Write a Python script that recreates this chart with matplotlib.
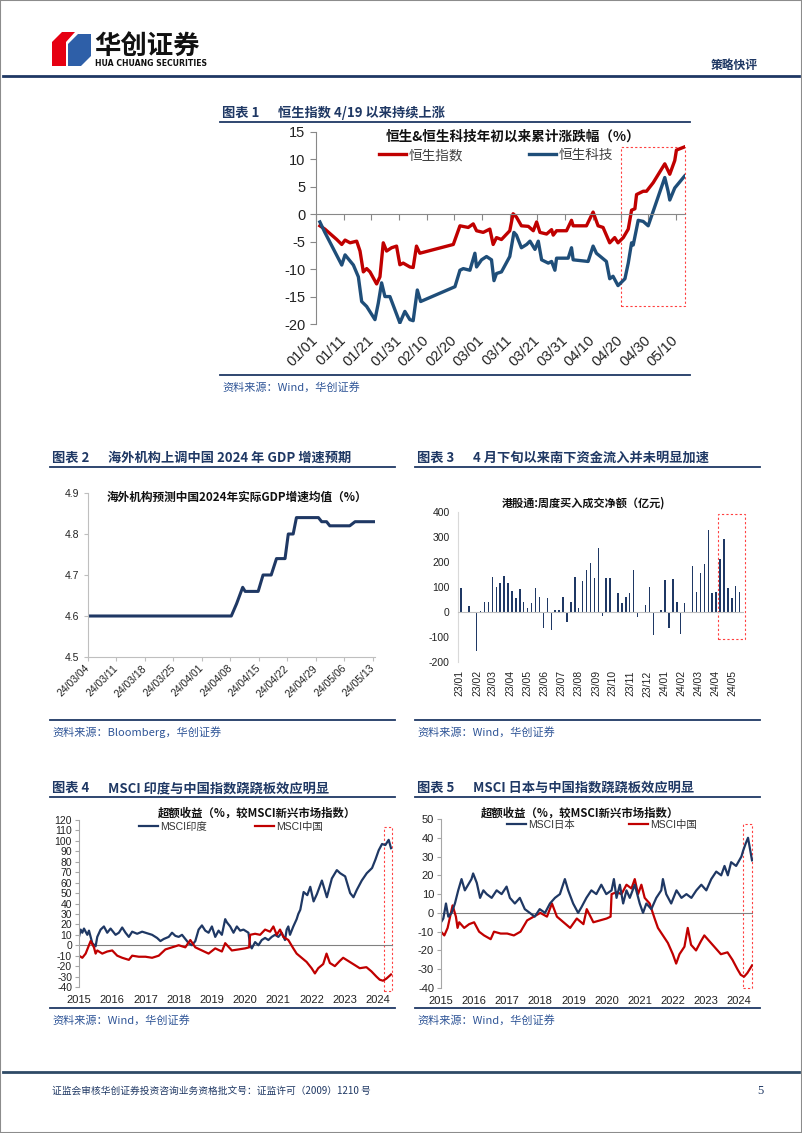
import numpy as np
import pandas as pd
import matplotlib
matplotlib.use('Agg')
import matplotlib.pyplot as plt
import matplotlib.dates as mdates
from matplotlib.patches import Rectangle, Polygon
from matplotlib.lines import Line2D

plt.rcParams['font.family'] = ['Liberation Sans', 'Noto Sans CJK SC']
plt.rcParams['axes.unicode_minus'] = False

W, H = 802, 1133
NAVY = '#1F3864'
BLUE = '#1F4E79'
RED = '#C00000'
CJK = ['Noto Sans CJK SC', 'DejaVu Sans']

# ---- chart 1: Hang Seng / HS Tech YTD (%), x = days since 2024-01-01
hsi_day = [1.4, 3.2, 7.5, 9.3, 10.5, 12.3, 14.7, 15.9, 17.1, 18.3, 19.5, 21.9, 23.1, 24.3, 25.5,
           27.3, 29.1, 30.3, 31.5, 33.9, 35.1, 36.3, 37.5, 49.6, 52.0, 55.0, 56.8, 58.0, 60.4, 62.8,
           64.0, 65.2, 67.0, 70.0, 71.2, 72.4, 74.2, 76.7, 78.5, 79.7, 80.9, 83.3, 85.1, 85.7, 86.9,
           90.5, 92.3, 92.9, 97.7, 100.1, 101.9, 103.7, 106.1, 107.9, 109.1, 111.0, 112.8, 114.0,
           115.2, 115.8, 118.2, 119.4, 121.8, 126.0, 127.8, 129.6, 130.2, 133.2]
hsi_val = [-2.1, -2.7, -4.6, -5.5, -4.7, -5.2, -4.9, -6.7, -10.5, -9.9, -10.5, -12.7, -11.4, -5.2, -6.7,
           -6.1, -5.8, -9.2, -8.9, -9.6, -9.7, -5.8, -7.1, -5.5, -2.1, -2.4, -1.75, -3.0, -3.3, -2.7,
           -5.5, -4.25, -4.6, -3.0, 0.1, -0.5, -2.1, -2.2, -3.0, -1.4, -3.3, -3.6, -2.8, -3.8, -3.0,
           -3.0, -1.1, -2.1, -2.1, 0.4, -2.1, -2.4, -5.2, -4.25, -5.2, -4.25, -2.7, 0.75,
           1.0, 3.6, 4.2, 4.2, 5.75, 9.2, 7.3, 9.8, 11.7, 12.3]
hstech_day = [1.4, 3.2, 9.3, 10.5, 13.5, 15.3, 16.5, 18.3, 21.3, 22.5, 23.7, 24.9, 26.7, 28.5, 30.3,
              32.1, 33.9, 35.1, 36.6, 37.8, 50.2, 52.0, 53.2, 55.6, 57.4, 58.0, 59.8, 61.6, 63.4, 64.3,
              65.2, 67.0, 70.0, 71.5, 72.4, 74.2, 76.1, 77.3, 79.1, 80.3, 81.5, 83.9, 85.1, 86.3, 86.9,
              91.1, 92.3, 92.9, 98.3, 100.1, 101.3, 104.9, 106.1, 107.3, 109.1, 111.6, 112.8, 114.0,
              114.6, 116.4, 118.2, 120.0, 123.0, 126.0, 127.2, 127.8, 129.6, 133.2]
hstech_val = [-1.4, -3.3, -9.25, -7.4, -9.25, -11.4, -15.9, -16.8, -19.2, -16.2, -12.5, -15.0, -15.0, -17.4, -19.8,
              -17.7, -19.2, -19.4, -13.8, -15.9, -13.2, -10.2, -9.9, -10.2, -7.1, -9.6, -8.3, -7.7, -8.3, -12.1,
              -10.8, -10.5, -7.7, -3.3, -3.8, -6.1, -5.5, -4.9, -6.4, -4.9, -8.3, -8.9, -8.6, -10.2, -8.0,
              -8.0, -6.1, -8.3, -8.6, -5.8, -7.1, -8.6, -11.75, -11.3, -13.0, -11.75, -8.9, -5.2,
              -5.6, -1.1, -1.3, -2.1, 2.3, 6.7, 4.2, 2.6, 4.8, 7.0]

# ---- chart 2: GDP forecast mean, x = days since 2024-03-04
gdp_day = [0, 35.2, 36.5, 38.0, 38.6, 41.8, 43.0, 45.0, 46.3, 48.4, 49.2, 50.4, 51.2, 56.6,
           57.4, 58.6, 59.4, 64.3, 65.6, 70.5]
gdp_val = [4.60, 4.60, 4.63, 4.67, 4.66, 4.66, 4.70, 4.70, 4.74, 4.74, 4.80, 4.80, 4.84, 4.84,
           4.83, 4.83, 4.82, 4.82, 4.83, 4.83]

# ---- chart 3: southbound weekly net buy (100m CNY)
flows = [97, -5, 25, 0, -155, 5, 40, 40, 140, 100, 117, 145, 115, 85, 55, 92, 40, 18, 35, 97,
         60, -65, 55, -70, 7, 10, 62, -40, 40, 140, 15, 125, 170, 195, 135, 255, -15, 135, 135, 0,
         75, 37, 62, 78, 170, -20, 0, 30, 100, -90, 0, 10, 130, -65, 132, 40, -88, 37, 0, 183,
         82, 157, 193, 327, 78, 80, 213, 293, 95, 55, 104, 80]

# ---- chart 4/5: excess return vs MSCI EM (%)
india_year = [2015.00, 2015.05, 2015.10, 2015.15, 2015.25, 2015.30, 2015.40, 2015.50, 2015.55, 2015.65,
              2015.75, 2015.85, 2015.95, 2016.10, 2016.20, 2016.30, 2016.40, 2016.50, 2016.60, 2016.75,
              2016.90, 2017.00, 2017.20, 2017.35, 2017.45, 2017.55, 2017.70, 2017.80, 2017.90, 2018.00,
              2018.10, 2018.20, 2018.30, 2018.40, 2018.50, 2018.60, 2018.70, 2018.80, 2018.90, 2019.00,
              2019.10, 2019.20, 2019.30, 2019.40, 2019.45, 2019.55, 2019.65, 2019.75, 2019.85, 2019.95,
              2020.10, 2020.15, 2020.20, 2020.30, 2020.40, 2020.50, 2020.60, 2020.70, 2020.80, 2020.90,
              2021.00, 2021.10, 2021.20, 2021.25, 2021.30, 2021.35, 2021.45, 2021.55, 2021.60, 2021.66,
              2021.76, 2021.87, 2021.96, 2022.06, 2022.16, 2022.31, 2022.46, 2022.61, 2022.76, 2022.86,
              2023.01, 2023.16, 2023.26, 2023.36, 2023.51, 2023.66, 2023.82, 2023.92, 2024.02, 2024.12,
              2024.22, 2024.32, 2024.39]
india_val = [8, 15, 12, 16, 10, 14, 2, -1, 8, 15,
             18, 12, 16, 10, 12, 17, 12, 8, 13, 11,
             13, 12, 10, 7, 4, 6, 8, 12, 9, 8,
             10, 6, 2, 0, 4, 15, 19, 14, 12, 18,
             8, 14, 10, 25, 22, 18, 12, 18, 14, 15,
             12, 0, -3, 3, 0, 5, 7, 5, 8, 10,
             8, 12, 5, 15, 18, 10, 18, 25, 30, 34,
             51, 48, 56, 42, 49, 62, 46, 64, 72, 69,
             66, 50, 46, 53, 62, 69, 74, 82, 91, 97,
             96, 101, 93]
china_year = [2015.00, 2015.10, 2015.20, 2015.30, 2015.35, 2015.45, 2015.50, 2015.55, 2015.70, 2015.85,
              2016.00, 2016.15, 2016.30, 2016.50, 2016.60, 2016.80, 2017.00, 2017.20, 2017.40, 2017.60,
              2017.80, 2018.00, 2018.20, 2018.35, 2018.50, 2018.70, 2018.90, 2019.10, 2019.30, 2019.40,
              2019.60, 2019.80, 2020.00, 2020.12, 2020.15, 2020.30, 2020.45, 2020.60, 2020.75, 2020.85,
              2020.95, 2021.05, 2021.15, 2021.30, 2021.45, 2021.55, 2021.70, 2021.85, 2022.00, 2022.10,
              2022.20, 2022.35, 2022.45, 2022.55, 2022.70, 2022.85, 2022.95, 2023.10, 2023.25, 2023.45,
              2023.65, 2023.80, 2023.95, 2024.05, 2024.15, 2024.25, 2024.39]
china_val = [-10, -12, -8, 0, 4, -2, -8, -5, -8, -6,
             -5, -10, -12, -14, -10, -11, -11, -12, -10, -4,
             -2, 0, -2, 5, -2, -5, -8, -3, -6, 2,
             -5, -4, -3, -2, 10, 11, 10, 15, 13, 18,
             10, 15, 8, 5, -3, -8, -12, -16, -22, -27,
             -22, -18, -8, -17, -20, -15, -12, -15, -18, -22,
             -21, -25, -30, -33, -34, -32, -28]
japan_year = [2015.00, 2015.07, 2015.15, 2015.22, 2015.32, 2015.42, 2015.52, 2015.62, 2015.72, 2015.82,
              2015.92, 2015.97, 2016.08, 2016.18, 2016.28, 2016.38, 2016.53, 2016.68, 2016.83, 2016.98,
              2017.08, 2017.23, 2017.38, 2017.53, 2017.68, 2017.83, 2017.98, 2018.14, 2018.29, 2018.44,
              2018.59, 2018.74, 2018.84, 2018.99, 2019.14, 2019.24, 2019.39, 2019.54, 2019.69, 2019.84,
              2019.99, 2020.15, 2020.22, 2020.30, 2020.40, 2020.50, 2020.60, 2020.70, 2020.85, 2021.00,
              2021.10, 2021.20, 2021.35, 2021.50, 2021.65, 2021.70, 2021.80, 2021.95, 2022.11, 2022.26,
              2022.41, 2022.56, 2022.71, 2022.86, 2023.01, 2023.16, 2023.31, 2023.46, 2023.56, 2023.66,
              2023.76, 2023.91, 2024.07, 2024.12, 2024.20, 2024.27, 2024.32, 2024.39]
japan_val = [-5, -3, 5, -2, 0, 5, 12, 18, 12, 15,
             18, 21, 16, 8, 12, 10, 8, 12, 10, 14,
             8, 5, 8, 2, 0, -2, 2, 0, 5, 8,
             10, 18, 12, 5, 0, 3, 8, 12, 10, 15,
             10, 12, 18, 8, 15, 5, 12, 8, 15, 5,
             0, 5, 2, 8, 12, 18, 10, 5, 12, 8,
             10, 8, 12, 15, 12, 18, 22, 20, 25, 20,
             27, 25, 30, 33, 37, 40, 35, 28]

fig = plt.figure(figsize=(W / 100, H / 100), dpi=100)


def px_axes(x0, y0, x1, y1):
    return fig.add_axes([x0 / W, 1 - y1 / H, (x1 - x0) / W, (y1 - y0) / H])


def ptext(x, y, s, **kw):
    return fig.text(x / W, 1 - y / H, s, **kw)


def hline(x0, x1, y, color=NAVY, lw=1.2):
    fig.add_artist(Line2D([x0 / W, x1 / W], [1 - y / H, 1 - y / H], color=color, lw=lw))


def section(x0, x1, num, title, src, y_top, y_bot):
    ptext(x0 + 2, y_top - 9, '图表 %d' % num, family=CJK, weight='bold', fontsize=9.5,
          color=NAVY, va='center')
    ptext(x0 + 58, y_top - 9, title, family=CJK, weight='bold', fontsize=9.5, color=NAVY, va='center')
    hline(x0, x1, y_top, lw=1.3)
    hline(x0, x1, y_bot, lw=1.3)
    ptext(x0 + 2, y_bot + 12, src, family=CJK, fontsize=8, color='#2F5597', va='center')


# page frame, header, footer
fig.add_artist(Rectangle((0, 0), 1, 1, transform=fig.transFigure, fill=False, ec='#8C8C8C', lw=1.5))
fig.add_artist(Polygon([(52 / W, 1 - 42 / H), (62 / W, 1 - 32 / H), (75 / W, 1 - 32 / H),
                        (66 / W, 1 - 42 / H), (66 / W, 1 - 66 / H), (52 / W, 1 - 66 / H)],
                       closed=True, transform=fig.transFigure, fc='#E60012', ec='none'))
fig.add_artist(Polygon([(68 / W, 1 - 44 / H), (78 / W, 1 - 34 / H), (91 / W, 1 - 34 / H),
                        (91 / W, 1 - 56 / H), (81 / W, 1 - 66 / H), (68 / W, 1 - 66 / H)],
                       closed=True, transform=fig.transFigure, fc='#2E5FA8', ec='none'))
ptext(94, 46, '华创证券', family=CJK, weight='bold', fontsize=19, color='#111111', va='center')
ptext(95, 63, 'HUA CHUANG SECURITIES', family=['DejaVu Sans'], weight='bold', fontsize=5.6,
      color='#111111', va='center')
ptext(758, 65, '策略快评', family=CJK, weight='bold', fontsize=8.5, color=NAVY, va='center', ha='right')
hline(3, 799, 76, color='#1F3864', lw=2)
hline(3, 799, 1072, color='#2E4A66', lw=2)
ptext(52, 1091, '证监会审核华创证券投资咨询业务资格批文号：证监许可（2009）1210 号', family=CJK,
      fontsize=7, color=NAVY, va='center')
ptext(757, 1091, '5', family=['Liberation Serif'], fontsize=9, color=NAVY, va='center')

# ---------------- chart 1
section(220, 690, 1, '恒生指数 4/19 以来持续上涨', '资料来源：Wind，华创证券', 122, 375)
ax1 = px_axes(316, 132, 685, 324)
ax1.plot(hsi_day, hsi_val, color=RED, lw=2.4, label='恒生指数', solid_joinstyle='round')
ax1.plot(hstech_day, hstech_val, color=BLUE, lw=2.4, label='恒生科技', solid_joinstyle='round')
ax1.set_xlim(0, 133.3)
ax1.set_ylim(-20, 15)
ax1.set_yticks(np.arange(-20, 16, 5))
ax1.tick_params(axis='y', labelsize=10.5, length=4, color='#888888', labelcolor='#222222')
for s in ['top', 'right']:
    ax1.spines[s].set_visible(False)
ax1.spines['left'].set_color('#888888')
ax1.spines['bottom'].set_position(('data', 0))
ax1.spines['bottom'].set_color('#888888')
d1_ticks = np.arange(0, 131, 10)
ax1.set_xticks(d1_ticks)
ax1.tick_params(axis='x', length=4, color='#888888', labelbottom=False)
sec1 = ax1.secondary_xaxis('bottom')
sec1.spines['bottom'].set_visible(False)
d1_labels = [(pd.Timestamp('2024-01-01') + pd.Timedelta(days=int(d))).strftime('%m/%d') for d in d1_ticks]
sec1.set_xticks(d1_ticks, labels=d1_labels)
sec1.tick_params(length=0, pad=10, labelsize=10.5, labelcolor='#222222')
plt.setp(sec1.get_xticklabels(), rotation=45, ha='right', va='center', rotation_mode='anchor')
ax1.add_patch(Rectangle((110, -16.7), 23.3, 29.0, fill=False, ec='#FF4040', lw=0.8,
                        ls=(0, (2, 2)), clip_on=False))
ptext(513, 137, '恒生&恒生科技年初以来累计涨跌幅（%）', family=CJK, weight='bold', fontsize=9.8,
      color='#111111', ha='center', va='center')
ax1.legend(loc='center', bbox_to_anchor=(496 / W, 1 - 155 / H), bbox_transform=fig.transFigure,
           ncol=2, frameon=False, prop={'family': CJK, 'size': 9.8}, labelcolor='#404040',
           handlelength=2.0, handletextpad=0.2, columnspacing=4.8)

# ---------------- chart 2
section(50, 395, 2, '海外机构上调中国 2024 年 GDP 增速预期', '资料来源：Bloomberg，华创证券', 467, 720)
ax2 = px_axes(88, 493, 375, 657)
ax2.plot(gdp_day, gdp_val, color=NAVY, lw=2.2)
ax2.set_xlim(0, 70.5)
ax2.set_ylim(4.5, 4.9)
ax2.set_yticks([4.5, 4.6, 4.7, 4.8, 4.9])
ax2.set_yticklabels(['%.1f' % v for v in [4.5, 4.6, 4.7, 4.8, 4.9]])
d2_ticks = np.arange(0, 71, 7)
d2_labels = [(pd.Timestamp('2024-03-04') + pd.Timedelta(days=int(d))).strftime('%y/%m/%d') for d in d2_ticks]
ax2.set_xticks(d2_ticks, labels=d2_labels)
plt.setp(ax2.get_xticklabels(), rotation=45, ha='right', va='center', rotation_mode='anchor')
ax2.tick_params(labelsize=7.5, length=3, color='#BFBFBF', labelcolor='#222222')
ax2.tick_params(axis='x', pad=4)
for s in ['top', 'right']:
    ax2.spines[s].set_visible(False)
for s in ['left', 'bottom']:
    ax2.spines[s].set_color('#BFBFBF')
ptext(107, 497, '海外机构预测中国2024年实际GDP增速均值（%）', family=CJK, weight='bold', fontsize=8.4,
      color='#111111', va='center')

# ---------------- chart 3
section(415, 760, 3, '4 月下旬以来南下资金流入并未明显加速', '资料来源：Wind，华创证券', 467, 720)
ax3 = px_axes(458, 512, 743, 662)
wk0 = pd.Timestamp('2023-01-03')
wk_dates = pd.date_range(wk0, periods=len(flows), freq='7D')
ax3.bar(mdates.date2num(wk_dates), flows, width=2.6, color=NAVY)
ax3.set_xlim(mdates.date2num(wk0 - pd.Timedelta(days=5.3)), mdates.date2num(wk0 + pd.Timedelta(days=503)))
ax3.set_ylim(-200, 400)
ax3.set_yticks(np.arange(-200, 401, 100))
ax3.tick_params(axis='y', labelsize=7.5, length=0, labelcolor='#222222', pad=6)
for s in ['top', 'right']:
    ax3.spines[s].set_visible(False)
ax3.spines['left'].set_color('#D9D9D9')
ax3.spines['bottom'].set_position(('data', 0))
ax3.spines['bottom'].set_color('#BFBFBF')
ax3.tick_params(axis='x', length=0, labelbottom=False)
months = pd.date_range('2023-01-01', '2024-05-01', freq='MS')
sec3 = ax3.secondary_xaxis('bottom')
sec3.spines['bottom'].set_visible(False)
sec3.set_xticks(mdates.date2num(months), labels=[m.strftime('%y/%m') for m in months])
sec3.tick_params(length=0, pad=6, labelsize=7.5, labelcolor='#222222')
plt.setp(sec3.get_xticklabels(), rotation=90, ha='center', va='top')
r0 = mdates.date2num(wk0 + pd.Timedelta(days=65.5 * 7))
r1 = mdates.date2num(wk0 + pd.Timedelta(days=72.3 * 7))
ax3.add_patch(Rectangle((r0, -108), r1 - r0, 500, fill=False, ec='#FF4040', lw=0.8,
                        ls=(0, (2, 2)), clip_on=False))
ptext(583, 503, '港股通:周度买入成交净额（亿元)', family=CJK, weight='bold', fontsize=8,
      color='#111111', ha='center', va='center')

# ---------------- chart 4
section(50, 395, 4, 'MSCI 印度与中国指数跷跷板效应明显', '资料来源：Wind，华创证券', 797, 1008)
ax4 = px_axes(79, 820, 393, 987)
ax4.axhline(0, color='#808080', lw=0.8)
ax4.plot(india_year, india_val, color=NAVY, lw=1.6, label='MSCI印度')
ax4.plot(china_year, china_val, color=RED, lw=1.6, label='MSCI中国')
ax4.set_xlim(2015, 2024.45)
ax4.set_ylim(-40, 120)
ax4.set_yticks(np.arange(-40, 121, 10))
ax4.set_xticks(np.arange(2015, 2025))
ax4.tick_params(axis='y', labelsize=7.5, length=3, color='#A6A6A6', labelcolor='#222222', pad=2)
ax4.tick_params(axis='x', labelsize=8, length=0, labelcolor='#222222', pad=6)
for s in ['top', 'right', 'bottom']:
    ax4.spines[s].set_visible(False)
ax4.spines['left'].set_color('#A6A6A6')
ax4.add_patch(Rectangle((2024.19, -43.8), 0.24, 157, fill=False, ec='#FF4040', lw=0.8,
                        ls=(0, (2, 2)), clip_on=False))
ptext(257, 813, '超额收益（%，较MSCI新兴市场指数）', family=CJK, weight='bold', fontsize=8.2,
      color='#111111', ha='center', va='center')
ax4.legend(loc='center', bbox_to_anchor=(231 / W, 1 - 827 / H), bbox_transform=fig.transFigure,
           ncol=2, frameon=False, prop={'size': 7.5}, labelcolor='#333333',
           handlelength=1.8, handletextpad=0.2, columnspacing=4.6)

# ---------------- chart 5
section(415, 760, 5, 'MSCI 日本与中国指数跷跷板效应明显', '资料来源：Wind，华创证券', 797, 1008)
ax5 = px_axes(441, 819, 753, 988)
ax5.axhline(0, color='#808080', lw=0.8)
ax5.plot(china_year, china_val, color=RED, lw=1.6, label='MSCI中国')
ax5.plot(japan_year, japan_val, color=NAVY, lw=1.6, label='MSCI日本')
ax5.set_xlim(2015, 2024.42)
ax5.set_ylim(-40, 50)
ax5.set_yticks(np.arange(-40, 51, 10))
ax5.set_xticks(np.arange(2015, 2025))
ax5.tick_params(axis='y', labelsize=8, length=3, color='#A6A6A6', labelcolor='#222222', pad=2)
ax5.tick_params(axis='x', labelsize=8, length=0, labelcolor='#222222', pad=6)
for s in ['top', 'right', 'bottom']:
    ax5.spines[s].set_visible(False)
ax5.spines['left'].set_color('#A6A6A6')
ax5.add_patch(Rectangle((2024.12, -40), 0.27, 87.3, fill=False, ec='#FF4040', lw=0.8,
                        ls=(0, (2, 2)), clip_on=False))
ptext(580, 813, '超额收益（%，较MSCI新兴市场指数）', family=CJK, weight='bold', fontsize=8.2,
      color='#111111', ha='center', va='center')
h, l = ax5.get_legend_handles_labels()
ax5.legend(h[::-1], l[::-1], loc='center', bbox_to_anchor=(602 / W, 1 - 825 / H),
           bbox_transform=fig.transFigure, ncol=2, frameon=False, prop={'size': 7.5},
           labelcolor='#333333', handlelength=1.8, handletextpad=0.2, columnspacing=5.2)

fig.savefig('out.png', dpi=100)
